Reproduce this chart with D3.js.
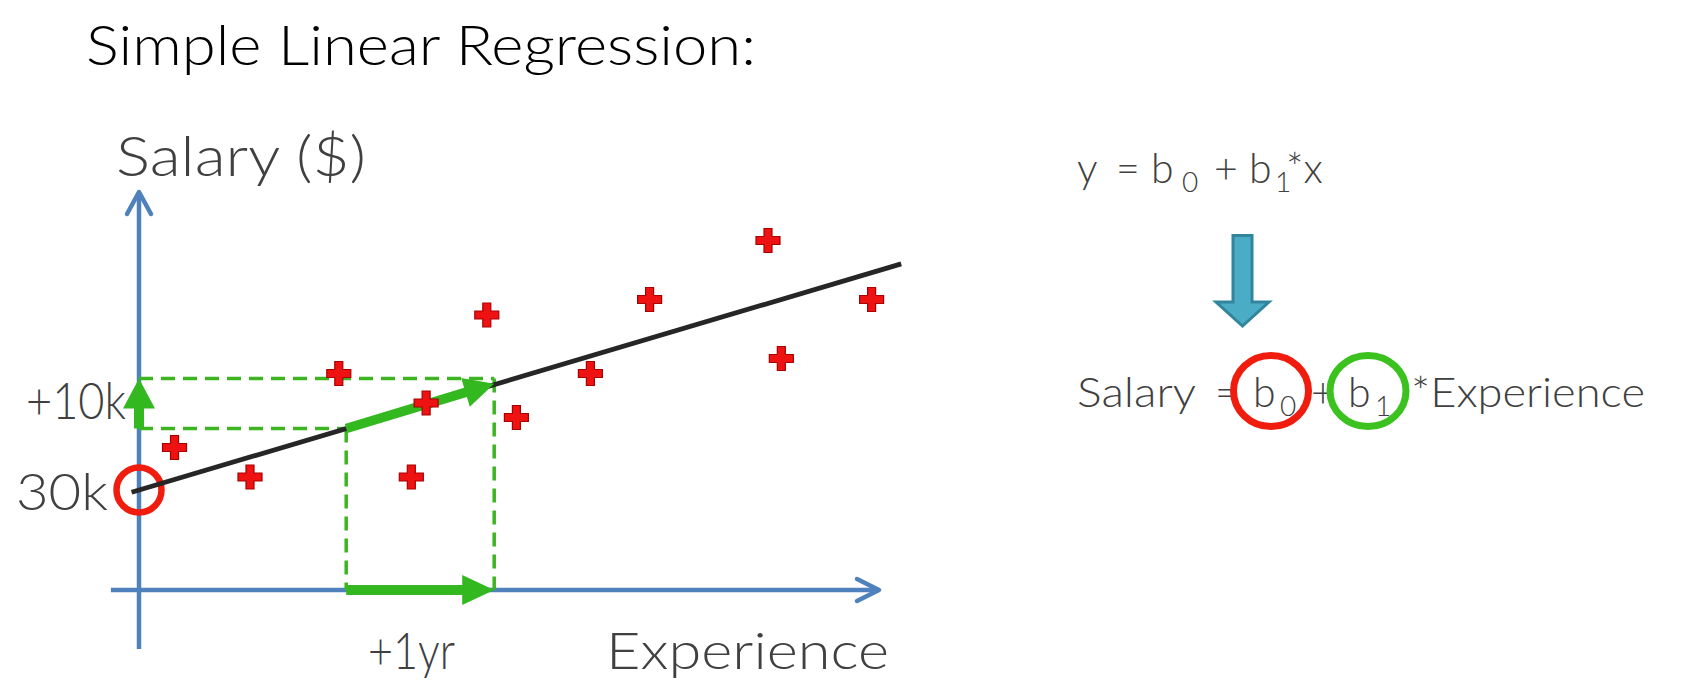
<!DOCTYPE html>
<html><head><meta charset="utf-8">
<script src="https://cdn.jsdelivr.net/npm/d3@7"></script>
<style>html,body{margin:0;padding:0;background:#fff;}svg{display:block;}</style>
</head><body>
<svg id="chart" width="1702" height="696"></svg>
<script>
// ---------- data ----------
const experienceYears = [0.24, 0.75, 1.35, 1.84, 1.94, 2.35, 2.55, 3.05, 3.45, 4.25, 4.34, 4.95];
const salaryK         = [38.5, 32.6, 53.3, 32.6, 47.4, 65.0, 44.5, 53.3, 68.1, 79.9, 56.3, 68.1];
const interceptK = 30;      // b0 (30k)
const slopeKPerYear = 8.78; // b1 as drawn
const lineExtent = [-0.05, 5.15];
const stepStartYear = 1.4;
const stepYears = 1;        // +1yr
const stepSalaryK = 10;     // +10k
const xAxisExtent = [-0.19, 5.0];
const yAxisExtent = [-1.8, 89.6];
const titleText = "Simple Linear Regression:";
const axisTitles = ["Salary ($)", "Experience"];
const annotationLabels = ["30k", "+10k", "+1yr"];

// ---------- setup ----------
const svg = d3.select("#chart");
svg.append("rect").attr("width", 1702).attr("height", 696).attr("fill", "#fff");
const x = d3.scaleLinear().domain([0, 5]).range([139, 879]);
const y = d3.scaleLinear().domain([10, 90]).range([590, 190]);
const FONT = "Lato, 'Open Sans', 'DejaVu Sans', sans-serif";
const GREY = "#404040", BLUE = "#4f81bd", GREEN = "#33b820", RED = "#f01c0e";

function arrowPoly(x0, y0, x1, y1, shaftW, headW, headL) {
  const dx = x1 - x0, dy = y1 - y0, len = Math.hypot(dx, dy);
  const ux = dx / len, uy = dy / len, px = -uy, py = ux;
  const bx = x1 - ux * headL, by = y1 - uy * headL;
  const pts = [
    [x0 + px * shaftW / 2, y0 + py * shaftW / 2],
    [bx + px * shaftW / 2, by + py * shaftW / 2],
    [bx + px * headW / 2, by + py * headW / 2],
    [x1, y1],
    [bx - px * headW / 2, by - py * headW / 2],
    [bx - px * shaftW / 2, by - py * shaftW / 2],
    [x0 - px * shaftW / 2, y0 - py * shaftW / 2]];
  return d3.line()(pts) + "Z";
}
function label(txt, tx, ty, size, len, color, weight) {
  return svg.append("text").attr("x", tx).attr("y", ty)
    .attr("font-family", FONT).attr("font-size", size)
    .attr("font-weight", weight || 300)
    .attr("fill", color || GREY)
    .attr("textLength", len).attr("lengthAdjust", "spacingAndGlyphs")
    .text(txt);
}
// formula made of positioned pieces inside a single text element
function formula(pieces, baseline) {
  const t = svg.append("text").attr("font-family", FONT).attr("font-weight", 300).attr("fill", GREY);
  pieces.forEach(p => {
    t.append("tspan").attr("x", p[1]).attr("y", baseline + (p[2] ? 9 : 0))
      .attr("font-size", p[2] ? 28 : 41).text(p[0]);
  });
  return t;
}

// ---------- title ----------
label(titleText, 86, 65, 56, 670, "#000", 300);

// ---------- axes (arrows) ----------
const axisG = svg.append("g").attr("stroke", BLUE).attr("stroke-width", 4.5)
  .attr("fill", "none").attr("stroke-linecap", "round").attr("stroke-linejoin", "round");
axisG.append("line").attr("x1", x(xAxisExtent[0])).attr("x2", x(xAxisExtent[1]))
  .attr("y1", y(10)).attr("y2", y(10)).attr("stroke-linecap", "butt");
axisG.append("path").attr("d", d3.line()([
  [x(xAxisExtent[1]) - 22, y(10) - 11], [x(xAxisExtent[1]), y(10)], [x(xAxisExtent[1]) - 22, y(10) + 11]]));
axisG.append("line").attr("x1", x(0)).attr("x2", x(0))
  .attr("y1", y(yAxisExtent[0])).attr("y2", y(yAxisExtent[1])).attr("stroke-linecap", "butt");
axisG.append("path").attr("d", d3.line()([
  [x(0) - 12, y(yAxisExtent[1]) + 22], [x(0), y(yAxisExtent[1])], [x(0) + 12, y(yAxisExtent[1]) + 22]]));

// ---------- dashed step guides ----------
const fit = v => interceptK + slopeKPerYear * v;
const sx0 = stepStartYear, sx1 = stepStartYear + stepYears;
const sy0 = fit(sx0), sy1 = sy0 + stepSalaryK;
const dashG = svg.append("g").attr("stroke", "#3cb521").attr("stroke-width", 3.5)
  .attr("stroke-dasharray", "14 8").attr("fill", "none");
dashG.append("line").attr("x1", x(0)).attr("x2", x(sx1)).attr("y1", y(sy1)).attr("y2", y(sy1));
dashG.append("line").attr("x1", x(0)).attr("x2", x(sx0)).attr("y1", y(sy0)).attr("y2", y(sy0));
dashG.append("line").attr("x1", x(sx0)).attr("x2", x(sx0)).attr("y1", y(sy0)).attr("y2", y(10));
dashG.append("line").attr("x1", x(sx1)).attr("x2", x(sx1)).attr("y1", y(sy1)).attr("y2", y(10));

// ---------- intercept circle ----------
svg.append("circle").attr("cx", x(0)).attr("cy", y(interceptK)).attr("r", 22.5)
  .attr("fill", "none").attr("stroke", RED).attr("stroke-width", 6.5);

// ---------- regression line ----------
svg.append("line")
  .attr("x1", x(lineExtent[0])).attr("y1", y(fit(lineExtent[0])))
  .attr("x2", x(lineExtent[1])).attr("y2", y(fit(lineExtent[1])))
  .attr("stroke", "#262626").attr("stroke-width", 4.8);

// ---------- green arrows ----------
svg.append("path").attr("fill", GREEN)
  .attr("d", arrowPoly(x(sx0), y(sy0), x(sx1), y(fit(sx1)) - 1, 9.5, 30, 30));
svg.append("path").attr("fill", GREEN)
  .attr("d", arrowPoly(x(sx0), y(10), x(sx1), y(10), 10, 30, 32));
svg.append("path").attr("fill", GREEN)
  .attr("d", arrowPoly(x(0), y(sy0), x(0), y(sy1), 10, 32, 30));

// ---------- points ----------
const pts = experienceYears.map((e, i) => ({e, s: salaryK[i]}));
svg.append("g").selectAll("path").data(pts).join("path")
  .attr("transform", d => `translate(${x(d.e)},${y(d.s)})`)
  .attr("d", d3.symbol().type(d3.symbolCross).size(320))
  .attr("fill", "#ee1212").attr("stroke", "#a80000").attr("stroke-width", 1.2);

// ---------- axis & annotation labels ----------
label(axisTitles[0], 116, 176, 55, 250);
label(axisTitles[1], 606, 669, 51, 283);
label(annotationLabels[0], 16, 510, 51, 92);
label(annotationLabels[1], 26, 419, 51, 100);
label(annotationLabels[2], 368, 669, 51, 87);

// ---------- right-side formulas ----------
// line 1: y = b0 + b1*x
formula([["y", 1077], ["=", 1116], ["b", 1151], ["0", 1182, true], ["+", 1214],
         ["b", 1249], ["1", 1275, true], ["*x", 1286]], 183);

// down arrow
svg.append("path").attr("fill", "#4bacc6").attr("stroke", "#31859c").attr("stroke-width", 3)
  .attr("stroke-linejoin", "miter")
  .attr("d", arrowPoly(1242.5, 235.5, 1242.5, 326, 19, 53, 24));

// line 2: Salary = b0 + b1 *Experience
label("Salary", 1077, 407, 41, 119);
label("*Experience", 1411, 407, 41, 234);
formula([["=", 1215], ["b", 1253], ["0", 1280, true], ["+", 1311],
         ["b", 1348], ["1", 1375, true]], 407);
svg.append("ellipse").attr("cx", 1271).attr("cy", 391).attr("rx", 37.5).attr("ry", 35.5)
  .attr("fill", "none").attr("stroke", RED).attr("stroke-width", 7);
svg.append("ellipse").attr("cx", 1368).attr("cy", 391).attr("rx", 38).attr("ry", 35.5)
  .attr("fill", "none").attr("stroke", "#3cc21e").attr("stroke-width", 7);
</script>
</body></html>
